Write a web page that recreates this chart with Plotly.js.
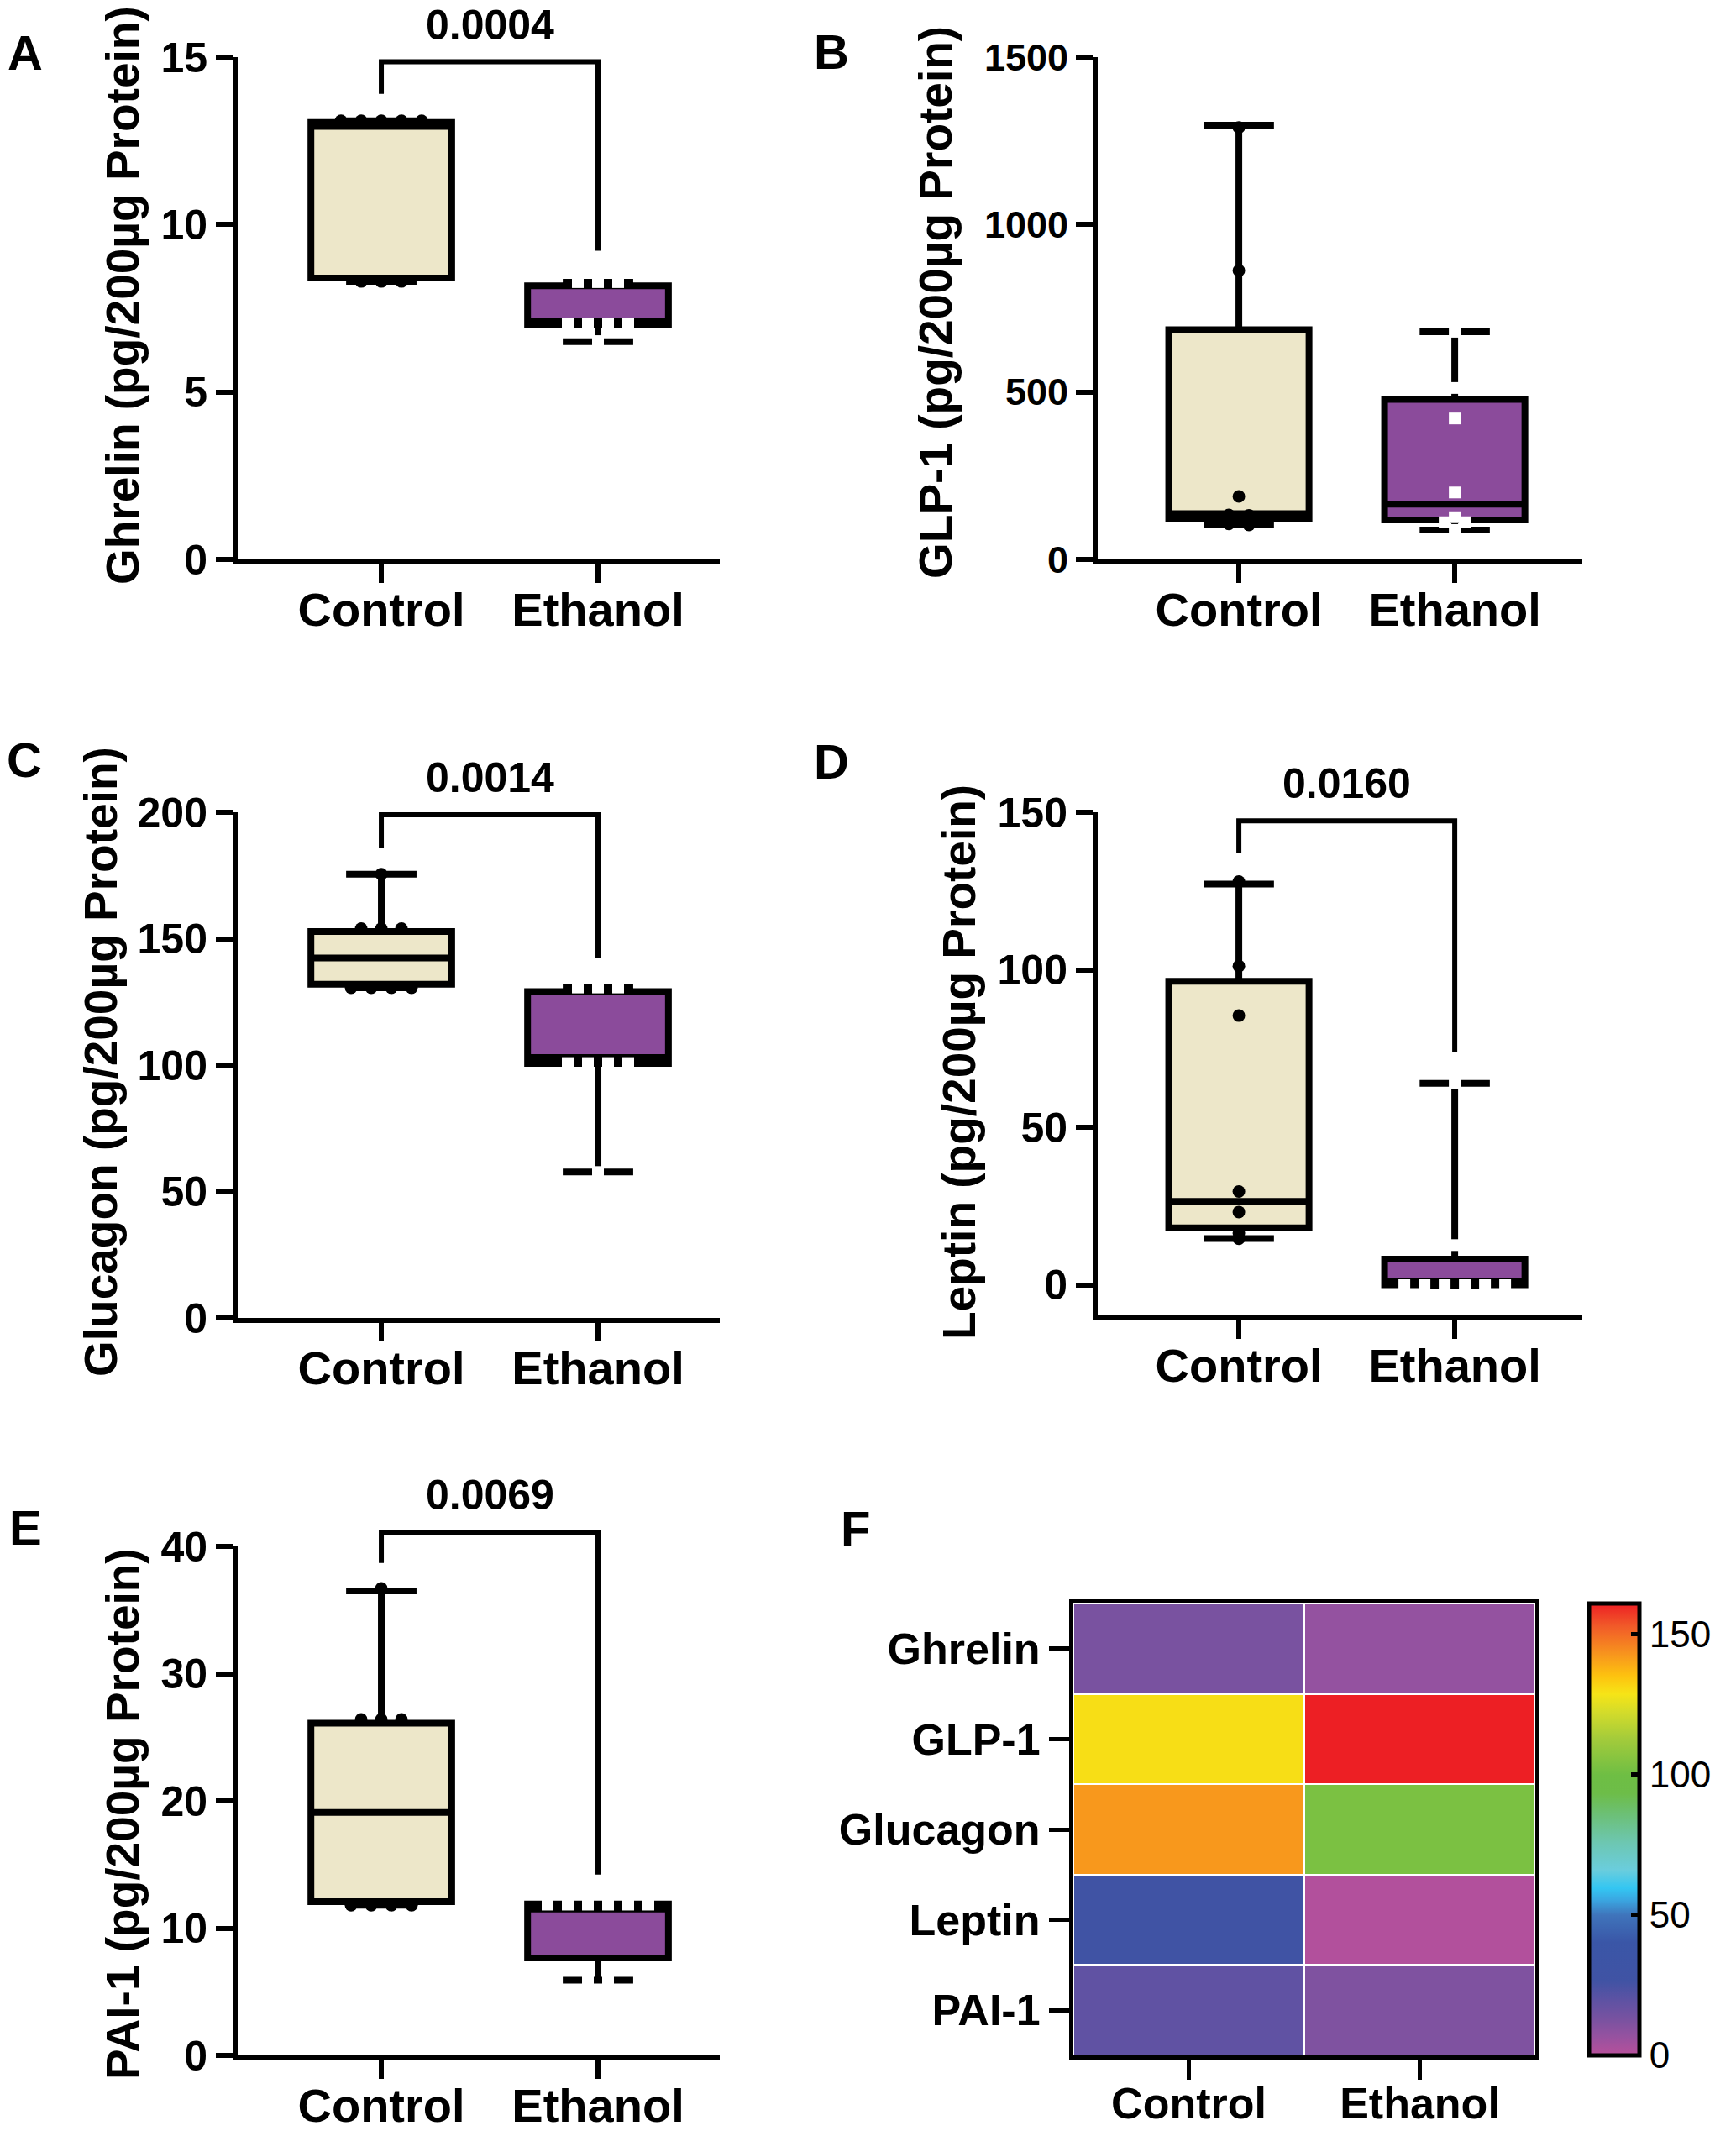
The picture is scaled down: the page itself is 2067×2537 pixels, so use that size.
<!DOCTYPE html>
<html><head><meta charset="utf-8">
<script src="https://cdn.plot.ly/plotly-3.0.1.min.js"></script>
<style>html,body{margin:0;padding:0;background:#fff}#chart{width:2067px;height:2537px}</style>
</head><body><div id="chart"></div>
<script>
// ---------------- data ----------------
const groups = ['Control', 'Ethanol'];
const yTitles = ['Ghrelin (pg/200µg Protein)', 'GLP-1 (pg/200µg Protein)', 'Glucagon (pg/200µg Protein)', 'Leptin (pg/200µg Protein)', 'PAI-1 (pg/200µg Protein)'];
const panelLetters = ['A', 'B', 'C', 'D', 'E', 'F'];

// individual points
const ghrelinControl = [13.1, 13.1, 13.1, 13.1, 13.1, 8.3, 8.3, 8.3];
const ghrelinEthanol = [8.28, 8.28, 8.28, 7.04, 7.04, 7.04, 7.04, 6.52];
const glp1Control = [1290, 863, 188, 133, 132, 106, 103];
const glp1Ethanol = [680, 512, 421, 200, 126, 111, 111, 88];
const glucagonControl = [175.5, 154, 154, 154, 130.6, 130.6, 130.6, 130.6];
const glucagonEthanol = [130.7, 130.7, 130.7, 100.8, 100.8, 100.8, 100.8, 57.7];
const leptinControl = [128, 101.2, 85.5, 29.7, 23.2, 16.5, 14.7];
const leptinEthanol = [64, 12.7, 0, 0, 0, 0, 0, 0];
const pai1Control = [36.7, 26.4, 26.4, 26.4, 11.8, 11.8, 11.8, 11.8];
const pai1Ethanol = [11.85, 11.85, 11.85, 11.85, 11.85, 11.85, 5.9, 5.9];

// box statistics [min, Q1, median, Q3, max]
const ghrelinControlBox = [8.3, 8.4, 12.93, 13.05, 13.1];
const ghrelinEthanolBox = [6.5, 7.02, 7.12, 8.17, 8.28];
const glp1ControlBox = [103, 121, 137, 686, 1297];
const glp1EthanolBox = [88, 118, 165, 478, 680];
const glucagonControlBox = [130.6, 132.0, 142.4, 152.8, 175.5];
const glucagonEthanolBox = [57.7, 100.7, 103, 129.1, 130.7];
const leptinControlBox = [14.8, 18.2, 26.6, 96.4, 127.2];
const leptinEthanolBox = [0, 0.1, 1.2, 8.25, 64];
const pai1ControlBox = [11.8, 12.08, 19.1, 26.1, 36.5];
const pai1EthanolBox = [5.9, 7.66, 11.5, 11.9, 11.9];

// p-values and comparison brackets [left leg end, top, right leg end]
const pValues = ['0.0004', '', '0.0014', '0.0160', '0.0069'];
const ghrelinBracket = [13.9, 14.86, 9.22];
const glucagonBracket = [186, 199, 142.5];
const leptinBracket = [137, 147.3, 73.8];
const pai1Bracket = [38.7, 41.1, 14.2];

// heatmap (panel F)
const heatRows = ['Ghrelin', 'GLP-1', 'Glucagon', 'Leptin', 'PAI-1'];
const heatControl = [12.9, 130, 142.4, 26.6, 19.1];
const heatEthanol = [7.1, 165, 103, 1.2, 11.5];
const colorbarTicks = [0, 50, 100, 150];

// ---------------- layout helpers ----------------
const W = 2067, H = 2537;
const FONT = 'Liberation Sans, Arial, Helvetica, sans-serif';
const fx = px => px / W;
const fy = py => 1 - py / H;
const ctrlFill = '#EDE7C9', ethFill = '#8B4B9B';

const panels = [
  {xa: 'x', ya: 'y', xpx: [283, 857], ypx: [68, 666], xr: [-0.663, 1.562], yr: [0, 15], yt: [0, 5, 10, 15],
   ctrl: ghrelinControl, eth: ghrelinEthanol, cbox: ghrelinControlBox, ebox: ghrelinEthanolBox, br: ghrelinBracket,
   p: pValues[0], title: yTitles[0], titleX: 146, titleY: 352, tickSize: 50, letter: [30, 62]},
  {xa: 'x2', ya: 'y2', xpx: [1307, 1884], ypx: [68, 666], xr: [-0.654, 1.591], yr: [0, 1500], yt: [0, 500, 1000, 1500],
   ctrl: glp1Control, eth: glp1Ethanol, cbox: glp1ControlBox, ebox: glp1EthanolBox, br: null,
   p: pValues[1], title: yTitles[1], titleX: 1114, titleY: 360, tickSize: 45, letter: [990, 61]},
  {xa: 'x3', ya: 'y3', xpx: [283, 857], ypx: [967, 1569], xr: [-0.663, 1.562], yr: [0, 200], yt: [0, 50, 100, 150, 200],
   ctrl: glucagonControl, eth: glucagonEthanol, cbox: glucagonControlBox, ebox: glucagonEthanolBox, br: glucagonBracket,
   p: pValues[2], title: yTitles[2], titleX: 120, titleY: 1264, tickSize: 50, letter: [29, 904]},
  {xa: 'x4', ya: 'y4', xpx: [1307, 1884], ypx: [967, 1566], xr: [-0.654, 1.591], yr: [-9.6, 150], yt: [0, 50, 100, 150],
   ctrl: leptinControl, eth: leptinEthanol, cbox: leptinControlBox, ebox: leptinEthanolBox, br: leptinBracket,
   p: pValues[3], title: yTitles[3], titleX: 1142, titleY: 1265, tickSize: 50, letter: [990, 906]},
  {xa: 'x5', ya: 'y5', xpx: [283, 857], ypx: [1841, 2447], xr: [-0.663, 1.562], yr: [0, 40], yt: [0, 10, 20, 30, 40],
   ctrl: pai1Control, eth: pai1Ethanol, cbox: pai1ControlBox, ebox: pai1EthanolBox, br: pai1Bracket,
   p: pValues[4], title: yTitles[4], titleX: 146, titleY: 2160, tickSize: 50, letter: [30, 1818]}
];

function boxTrace(stats, xpos, fill, xa, ya) {
  return {type: 'box', x: [xpos], lowerfence: [stats[0]], q1: [stats[1]], median: [stats[2]],
    q3: [stats[3]], upperfence: [stats[4]], width: 0.65, whiskerwidth: 0.5, fillcolor: fill,
    line: {color: '#000', width: 8}, boxpoints: false, xaxis: xa, yaxis: ya, hoverinfo: 'skip', showlegend: false};
}

// spread points of (nearly) equal value side by side, like the original
function spread(vals, pan) {
  const pxPerY = (pan.ypx[1] - pan.ypx[0]) / (pan.yr[1] - pan.yr[0]);
  const pxPerX = (pan.xpx[1] - pan.xpx[0]) / (pan.xr[1] - pan.xr[0]);
  const step = 24 / pxPerX;
  const idx = vals.map((v, i) => i).sort((a, b) => vals[b] - vals[a]);
  const off = new Array(vals.length).fill(0);
  let cluster = [];
  const flush = () => {
    const k = cluster.length;
    cluster.forEach((ii, j) => { off[ii] = (j - (k - 1) / 2) * step; });
    cluster = [];
  };
  idx.forEach(i => {
    if (cluster.length && Math.abs(vals[cluster[cluster.length - 1]] - vals[i]) * pxPerY > 4) flush();
    cluster.push(i);
  });
  flush();
  return off;
}

function pointTrace(vals, center, pan, isCtrl) {
  const off = spread(vals, pan);
  return {type: 'scatter', mode: 'markers', x: vals.map((v, i) => center + off[i]), y: vals,
    xaxis: pan.xa, yaxis: pan.ya, cliponaxis: false, hoverinfo: 'skip', showlegend: false,
    marker: isCtrl ? {symbol: 'circle', size: 15, color: '#000', line: {width: 0}}
                   : {symbol: 'square', size: 14, color: '#fff', line: {width: 0}}};
}

const data = [];
const layout = {width: W, height: H, margin: {l: 0, r: 0, t: 0, b: 0}, showlegend: false,
  paper_bgcolor: '#fff', plot_bgcolor: '#fff', font: {family: FONT, color: '#000'},
  annotations: [], shapes: []};

panels.forEach((pan, n) => {
  data.push(boxTrace(pan.cbox, 0, ctrlFill, pan.xa, pan.ya));
  data.push(boxTrace(pan.ebox, 1, ethFill, pan.xa, pan.ya));
  const xk = 'xaxis' + (n === 0 ? '' : n + 1), yk = 'yaxis' + (n === 0 ? '' : n + 1);
  layout[xk] = {domain: [fx(pan.xpx[0]), fx(pan.xpx[1])], range: pan.xr, anchor: pan.ya,
    showline: true, linewidth: 6, linecolor: '#000', ticks: 'outside', ticklen: 22, tickwidth: 6, tickcolor: '#000',
    showgrid: false, zeroline: false, tickvals: [0, 1], ticktext: groups, ticklabelstandoff: -16,
    tickfont: {family: FONT, size: 56, color: '#000', weight: 'bold'}};
  layout[yk] = {domain: [fy(pan.ypx[1]), fy(pan.ypx[0])], range: pan.yr, anchor: pan.xa,
    showline: true, linewidth: 6, linecolor: '#000', ticks: 'outside', ticklen: 20, tickwidth: 6, tickcolor: '#000',
    showgrid: false, zeroline: false, tickvals: pan.yt,
    tickfont: {family: FONT, size: pan.tickSize, color: '#000', weight: 'bold'}};
  // y title
  layout.annotations.push({xref: 'paper', yref: 'paper', x: fx(pan.titleX), y: fy(pan.titleY),
    text: pan.title, textangle: -90, showarrow: false, xanchor: 'center', yanchor: 'middle',
    font: {family: FONT, size: 55, color: '#000', weight: 'bold'}});
  // panel letter
  layout.annotations.push({xref: 'paper', yref: 'paper', x: fx(pan.letter[0]), y: fy(pan.letter[1]),
    text: panelLetters[n], showarrow: false, xanchor: 'center', yanchor: 'middle',
    font: {family: FONT, size: 58, color: '#000', weight: 'bold'}});
  // bracket + p value
  if (pan.br) {
    const dx = v => (v - pan.xr[0]) / (pan.xr[1] - pan.xr[0]);
    const dy = v => (v - pan.yr[0]) / (pan.yr[1] - pan.yr[0]);
    layout.shapes.push({type: 'path', xref: pan.xa + ' domain', yref: pan.ya + ' domain',
      path: `M ${dx(0)},${dy(pan.br[0])} L ${dx(0)},${dy(pan.br[1])} L ${dx(1)},${dy(pan.br[1])} L ${dx(1)},${dy(pan.br[2])}`,
      line: {color: '#000', width: 6}});
    layout.annotations.push({xref: pan.xa + ' domain', yref: pan.ya + ' domain', x: dx(0.5), y: dy(pan.br[1]),
      yshift: 44, text: pan.p, showarrow: false, xanchor: 'center', yanchor: 'middle',
      font: {family: FONT, size: 50, color: '#000', weight: 'bold'}});
  }
});
// points on top of the boxes
panels.forEach(pan => {
  data.push(pointTrace(pan.ctrl, 0, pan, true));
  data.push(pointTrace(pan.eth, 1, pan, false));
});

// ---------------- panel F heatmap ----------------
const heatZ = heatRows.map((r, i) => [heatControl[i], heatEthanol[i]]);
const colorscale = [
  [0, '#B8509B'], [0.044, '#9452A0'], [0.075, '#7C52A0'], [0.12, '#5F52A3'], [0.165, '#4053A4'],
  [0.25, '#3A56A7'], [0.31, '#3F74BB'], [0.345, '#3AA8E2'], [0.37, '#33C6F2'], [0.41, '#6ACDDD'],
  [0.47, '#6DC7B2'], [0.53, '#6CC079'], [0.58, '#6DBD48'], [0.62, '#6EBE44'], [0.70, '#A3CB3B'],
  [0.76, '#D4DC2A'], [0.80, '#F6E417'], [0.84, '#FDC20F'], [0.89, '#F7931E'], [0.95, '#F15A29'], [1, '#ED1F24']
];
data.push({type: 'heatmap', x: groups, y: heatRows, z: heatZ, zmin: 0, zmax: 161, colorscale: colorscale,
  xgap: 2, ygap: 2, xaxis: 'x6', yaxis: 'y6', hoverinfo: 'skip',
  colorbar: {x: fx(1892), xanchor: 'left', xpad: 0, y: fy(2178), yanchor: 'middle', ypad: 0,
    len: 538 / H, lenmode: 'fraction', thickness: 60, outlinewidth: 5, outlinecolor: '#000',
    ticks: 'inside', ticklen: 12, tickwidth: 5, tickcolor: '#000', tickvals: colorbarTicks,
    tickprefix: '\u00a0\u00a0',
    tickfont: {family: FONT, size: 44, color: '#000'}}});
layout.xaxis6 = {domain: [fx(1278), fx(1828)], anchor: 'y6', type: 'category', range: [-0.5, 1.5],
  showline: true, mirror: true, linewidth: 5, linecolor: '#000', ticks: 'outside', ticklen: 24, tickwidth: 5,
  tickcolor: '#000', showgrid: false, zeroline: false, ticklabelstandoff: -16,
  tickfont: {family: FONT, size: 52, color: '#000', weight: 'bold'}};
layout.yaxis6 = {domain: [fy(2447), fy(1909)], anchor: 'x6', type: 'category', range: [4.5, -0.5],
  showline: true, mirror: true, linewidth: 5, linecolor: '#000', ticks: 'outside', ticklen: 24, tickwidth: 5,
  tickcolor: '#000', showgrid: false, zeroline: false,
  tickfont: {family: FONT, size: 52, color: '#000', weight: 'bold'}};
layout.annotations.push({xref: 'paper', yref: 'paper', x: fx(1018), y: fy(1819), text: panelLetters[5],
  showarrow: false, xanchor: 'center', yanchor: 'middle', font: {family: FONT, size: 58, color: '#000', weight: 'bold'}});

Plotly.newPlot('chart', data, layout, {staticPlot: true});
</script></body></html>
